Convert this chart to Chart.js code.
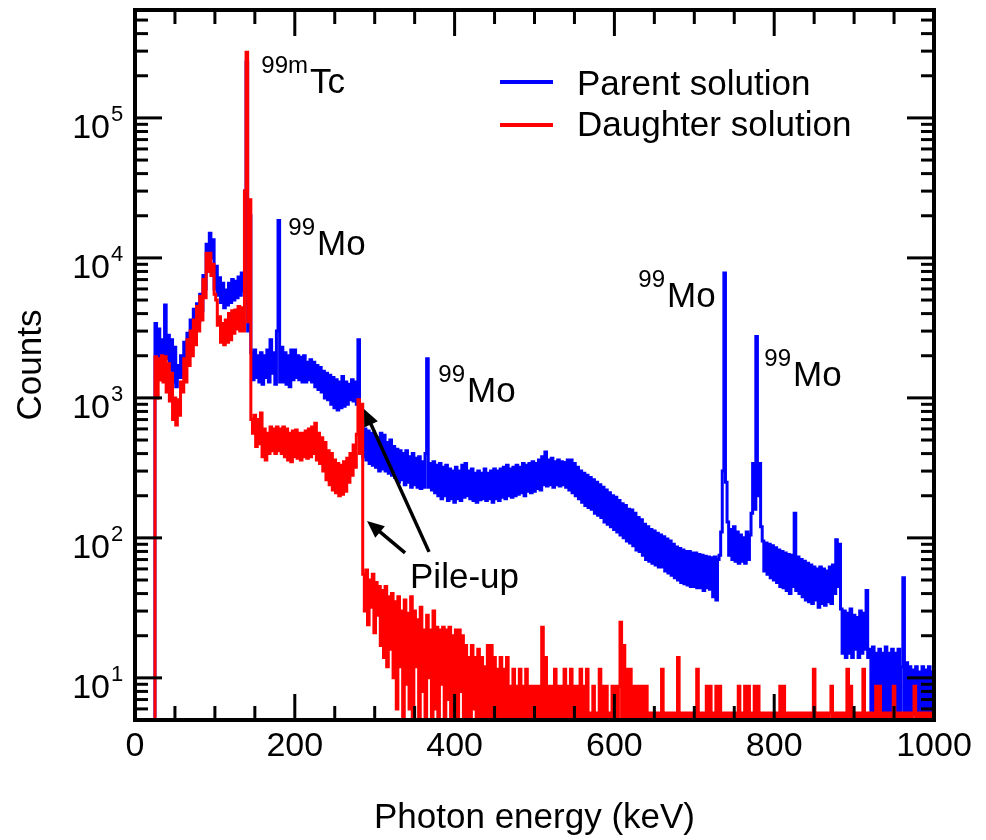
<!DOCTYPE html>
<html><head><meta charset="utf-8">
<script src="https://cdn.jsdelivr.net/npm/chart.js@4/dist/chart.umd.min.js"></script>
<style>html,body{margin:0;padding:0;background:#fff;}canvas{display:block;}</style>
</head><body>
<canvas id="c" width="986" height="840"></canvas>
<script>
// ---- channel grid (keV) ----
const startKeV = 20;
const binKeV = 2;

// ---- Parent solution counts, 20..1000 keV every 2 keV ----
const parentCounts = [
1,1,1,3400,1600,3100,1700,2600,1800,4600,
1900,2800,1600,2600,1300,2300,1200,1700,1400,2000,
1400,2500,1700,2900,2000,3600,2400,4300,3000,4700,
3500,5500,4200,7500,6000,12500,9500,15000,10000,13500,
6000,8700,5400,7200,4800,6600,4400,5900,4600,6600,
4800,7000,5000,6800,5200,7300,5400,7800,5800,30000,
250000,3000,20000,2100,1350,2200,1400,2000,1300,2100,
1250,2000,1400,2200,1300,2600,1500,2100,1250,3000,
18500,1300,2300,1300,2100,1250,2000,1200,2200,1350,
2200,1400,2000,1350,1950,1300,2000,1300,1800,1350,
1870,1300,1800,1200,1700,1150,1650,1100,1550,1000,
1500,970,1450,900,1400,850,1350,820,1300,850,
1420,870,1300,900,1250,970,1350,950,1300,900,
2600,500,620,380,600,360,580,340,560,330,
540,320,520,300,560,310,540,300,480,290,
500,280,450,270,430,250,420,260,400,240,
420,250,380,230,400,240,370,230,380,225,
350,230,400,1900,230,340,220,350,210,330,
200,340,190,320,200,330,185,310,190,300,
180,320,190,300,185,330,195,340,200,300,
190,310,185,290,180,300,187,290,190,310,
185,290,190,300,180,310,190,300,185,310,
195,320,190,330,200,310,195,320,200,330,
205,320,210,340,200,330,215,340,210,350,
215,340,225,360,220,380,240,411,235,360,
240,370,230,350,240,360,235,350,240,345,
230,360,220,360,210,340,200,320,190,300,
180,290,170,280,165,270,160,260,150,250,
145,240,140,230,130,220,125,210,120,200,
115,195,110,185,105,175,100,170,95,160,
92,158,88,150,82,140,80,135,75,125,
70,120,68,115,66,112,64,108,62,105,
62,102,58,98,56,95,54,90,52,86,
50,84,48,82,47,80,46,80,45,78,
45,78,44,76,44,75,42,74,44,73,
43,72,38,73,36,70,75,110,300,7800,
250,130,75,115,70,120,68,110,66,105,
68,100,66,110,70,105,150,340,160,2740,
200,340,120,95,58,92,55,90,52,88,
50,85,48,82,45,80,44,78,42,76,
40,75,45,150,42,73,40,70,38,68,
36,66,35,64,34,62,36,60,32,62,
34,60,33,58,35,62,34,64,40,97,
45,90,31,15,30,14,29,15,31,14,
28,16,27,14,30,15,29,16,42,14,
16,5.5,16.6,5.5,15,5.5,16,5.5,15,5.5,
16.6,5.5,15,5.5,16,5.5,15,5.5,16,5.5,
12,52,5.5,12.8,5.5,12,5.5,11.4,5.5,12,
5.5,11,5.5,12,5.5,11.4,5.5,12,5.5,11,
5.5
];

// ---- Daughter solution counts, 20..1000 keV every 2 keV ----
const daughterCounts = [
1,1,1,1970,1000,1900,1340,2000,1300,1970,
1100,1750,950,1500,700,1000,640,970,750,1300,
1100,1900,1300,2600,1700,3000,2000,3600,2400,4500,
3000,5300,3600,7000,5200,10800,8000,10800,7500,9000,
5500,5000,3300,3800,2500,3400,2400,3600,2500,4000,
2600,4200,2900,4250,3100,4500,3000,4400,3000,30000,
295000,3500,26000,700,560,750,450,700,470,780,
380,600,360,560,400,620,420,600,400,620,
420,600,400,620,380,600,360,560,350,580,
380,590,370,560,360,560,380,580,370,600,
380,620,400,660,360,560,340,520,300,480,
260,420,240,400,220,360,210,340,200,330,
205,350,215,370,250,400,280,460,320,550,
970,400,900,55,30,59,24,50,32,55,
21,48,28,45,17,42,14,45,12,38,
16,40,10,35,6,38,12,30,4,36,
9,29,6,38,3,30,12,26,3,32,
8,22,3,28,10,22,3,30,6,23,
3,22,9,23,3,22,7,23,3,20,
6,22,3,22,8,20,3,17,5,14,
3,17,6,14,3,16,3,14,5,12,
3,17,3,17,5,14,3,11.5,5,14,
3,11.5,3,14,3,8.7,3,11.5,3,8.7,
3,11.5,5,8.7,3,11.5,3,8.7,5,8.7,
3,8.7,3,8.7,3,23,3,14,3,8.7,
3,8.7,3,11.5,3,8.7,3,8.7,3,11.5,
3,8.7,3,11.5,3,8.7,3,8.7,3,11.5,
3,8.7,3,11.5,3,5.6,3,8.7,3,5.6,
3,11.5,3,8.7,3,8.7,3,5.6,3,8.7,
3,8.7,3,8.7,25,3,17,3,11.5,3,
11.5,3,8.7,3,8.7,3,8.7,3,8.7,3,
8.7,3,5.6,3,5.6,3,5.6,3,5.6,3,
11.5,3,5.6,3,5.6,3,5.6,3,5.6,3,
14,3,5.6,3,5.6,3,5.6,3,5.6,3,
5.6,3,11.5,3,5.6,3,5.6,3,8.7,3,
8.7,3,5.6,3,8.7,3,8.7,3,5.6,3,
5.6,3,5.6,3,5.6,3,5.6,3,8.7,3,
5.6,3,8.7,3,8.7,3,5.6,3,8.7,3,
8.7,3,5.6,3,5.6,3,5.6,3,5.6,3,
5.6,3,5.6,3,8.7,3,8.7,3,5.6,3,
5.6,3,5.6,3,5.6,3,5.6,3,5.6,3,
5.6,3,5.6,3,5.6,11.5,3,5.6,3,5.6,
3,5.6,3,5.6,3,5.6,8.7,3,5.6,3,
5.6,3,5.6,3,5.6,3,11.5,3,8.7,3,
5.6,3,5.6,3,5.6,3,11.5,3,5.6,3,
5.6,3,5.6,3,8.7,3,8.7,3,5.6,3,
5.6,3,5.6,3,5.6,8.7,3,5.6,3,5.6,
3,5.6,3,5.6,3,5.6,3,5.6,8.7,3,
5.6,3,5.6,3,5.6,3,5.6,3,5.6,3,
5.6
];

// ---- axes / labels ----
const xTickValues = [0, 200, 400, 600, 800, 1000];
const yTickPowers = [10, 100, 1000, 10000, 100000];
const seriesNames = ['Parent solution', 'Daughter solution'];
const seriesColors = ['#0000ff', '#ff0000'];
const xTitle = 'Photon energy (keV)';
const yTitle = 'Counts';
// peak labels: superscript + main text, anchored (left/baseline of main text) in data units
const peakLabels = [
  {sup: '99m', main: 'Tc', keV: 219.0, counts: 151000},
  {sup: '99',  main: 'Mo', keV: 227.8, counts: 10500},
  {sup: '99',  main: 'Mo', keV: 415.5, counts: 936},
  {sup: '99',  main: 'Mo', keV: 665.8, counts: 4470},
  {sup: '99',  main: 'Mo', keV: 823.5, counts: 1218}
];
const pileupText = {text: 'Pile-up', keV: 344.2, counts: 44};
const pileupArrows = [
  {fromKeV: 368, fromCounts: 79.4, toKeV: 286.6, toCounts: 834},
  {fromKeV: 338, fromCounts: 78.2, toKeV: 290.4, toCounts: 132}
];

const FONT = '"Liberation Sans", Arial, Helvetica, sans-serif';
Chart.defaults.font.family = FONT;
Chart.defaults.color = '#000';

function toPoints(arr){ return arr.map((v,i)=>({x: startKeV + binKeV*i, y: v})); }

const decorPlugin = {
  id: 'decor',
  afterDatasetsDraw(chart){
    const ctx = chart.ctx, xs = chart.scales.x, ys = chart.scales.y, a = chart.chartArea;
    ctx.save();
    ctx.strokeStyle = '#000'; ctx.fillStyle = '#000';
    function seg(x1,y1,x2,y2){ ctx.beginPath(); ctx.moveTo(x1,y1); ctx.lineTo(x2,y2); ctx.stroke(); }
    // ticks (inward, all four sides)
    ctx.lineWidth = 3; ctx.lineCap = 'butt';
    for (let v = xs.min; v <= xs.max; v += 50) {
      const x = xs.getPixelForValue(v);
      const len = xTickValues.includes(v) ? 26 : 14;
      seg(x, a.bottom, x, a.bottom - len);
      seg(x, a.top, x, a.top + len);
    }
    for (let e = 0; e <= 6; e++) {
      for (let d = 1; d <= 9; d++) {
        const v = d * Math.pow(10, e);
        if (v < ys.min || v > ys.max) continue;
        const y = ys.getPixelForValue(v);
        const len = d === 1 ? 27 : 13;
        seg(a.left, y, a.left + len, y);
        seg(a.right, y, a.right - len, y);
      }
    }
    // frame
    ctx.lineWidth = 4;
    ctx.strokeRect(a.left, a.top, a.right - a.left, a.bottom - a.top);

    // y tick labels: 10 with superscript exponent
    ctx.textBaseline = 'alphabetic';
    yTickPowers.forEach(v=>{
      const y = ys.getPixelForValue(v);
      ctx.font = '34px ' + FONT; ctx.textAlign = 'right';
      ctx.fillText('10', a.left - 25, y + 20);
      ctx.font = '22px ' + FONT; ctx.textAlign = 'left';
      ctx.fillText(String(Math.round(Math.log10(v))), a.left - 24, y + 3);
    });

    // legend
    ctx.textAlign = 'left';
    ctx.font = '35px ' + FONT;
    const legY = [82, 125], legBase = [95, 136];
    seriesNames.forEach((n,i)=>{
      ctx.strokeStyle = seriesColors[i]; ctx.lineWidth = 4;
      seg(500, legY[i], 553, legY[i]);
      ctx.fillStyle = '#000';
      ctx.fillText(n, 577, legBase[i]);
    });

    // peak labels
    peakLabels.forEach(p=>{
      const x = xs.getPixelForValue(p.keV), y = ys.getPixelForValue(p.counts);
      ctx.font = '35px ' + FONT; ctx.textAlign = 'left';
      ctx.fillText(p.main, x, y);
      ctx.font = '24px ' + FONT; ctx.textAlign = 'right';
      ctx.fillText(p.sup, x - 2, y - 20);
    });
    ctx.textAlign = 'left'; ctx.font = '35px ' + FONT;
    ctx.fillText(pileupText.text, xs.getPixelForValue(pileupText.keV), ys.getPixelForValue(pileupText.counts));

    // arrows
    ctx.strokeStyle = '#000'; ctx.fillStyle = '#000'; ctx.lineWidth = 3.5;
    pileupArrows.forEach(ar=>{
      const x1 = xs.getPixelForValue(ar.fromKeV), y1 = ys.getPixelForValue(ar.fromCounts);
      const x2 = xs.getPixelForValue(ar.toKeV), y2 = ys.getPixelForValue(ar.toCounts);
      const ang = Math.atan2(y2 - y1, x2 - x1), hl = 17, hw = 7.5;
      const bx = x2 - hl*Math.cos(ang), by = y2 - hl*Math.sin(ang);
      seg(x1, y1, bx + 2*Math.cos(ang), by + 2*Math.sin(ang));
      ctx.beginPath();
      ctx.moveTo(x2, y2);
      ctx.lineTo(bx + hw*Math.sin(ang), by - hw*Math.cos(ang));
      ctx.lineTo(bx - hw*Math.sin(ang), by + hw*Math.cos(ang));
      ctx.closePath(); ctx.fill();
    });
    ctx.restore();
  }
};

new Chart(document.getElementById('c'), {
  type: 'line',
  data: {
    datasets: [
      {label: seriesNames[0], data: toPoints(parentCounts), borderColor: seriesColors[0], backgroundColor: seriesColors[0],
       borderWidth: 3, stepped: 'middle', pointRadius: 0, fill: false, order: 1},
      {label: seriesNames[1], data: toPoints(daughterCounts), borderColor: seriesColors[1], backgroundColor: seriesColors[1],
       borderWidth: 3, stepped: 'middle', pointRadius: 0, fill: false, order: 0}
    ]
  },
  options: {
    responsive: false, animation: false, devicePixelRatio: 1,
    layout: {padding: {top: 10, right: 52, left: 0, bottom: 0}},
    plugins: {legend: {display: false}, tooltip: {enabled: false}},
    scales: {
      x: {
        type: 'linear', position: 'bottom', min: 0, max: 1000,
        grid: {display: false, drawTicks: false}, border: {display: false},
        ticks: {font: {size: 34}, color: '#000', padding: 6, maxRotation: 0, autoSkip: false,
                callback: v => String(v)},
        afterBuildTicks: s => { s.ticks = xTickValues.map(v => ({value: v})); },
        afterFit: s => { s.height = 120; s.paddingLeft = 0; s.paddingRight = 0; },
        title: {display: true, text: xTitle, font: {size: 35}, color: '#000', padding: {top: 0, bottom: 1}}
      },
      y: {
        type: 'logarithmic', position: 'left', min: 5, max: 590000,
        grid: {display: false, drawTicks: false}, border: {display: false},
        ticks: {display: false},
        afterBuildTicks: s => { s.ticks = yTickPowers.map(v => ({value: v})); },
        afterFit: s => { s.width = 135; s.paddingTop = 0; s.paddingBottom = 0; },
        title: {display: true, text: yTitle, font: {size: 35}, color: '#000', padding: {top: 10, bottom: 0}}
      }
    }
  },
  plugins: [decorPlugin]
});
</script>
</body></html>
